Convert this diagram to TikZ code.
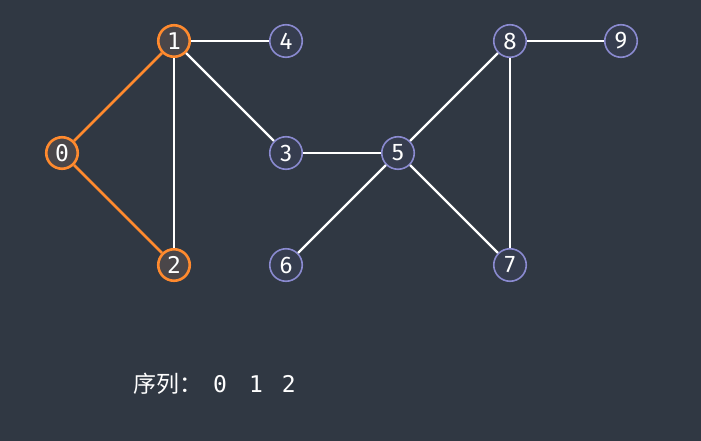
\documentclass[tikz,border=0pt]{standalone}
\usepackage{fontspec}
\setsansfont{Fira Sans}
\setmonofont{DejaVu Sans Mono}
\newfontfamily\cjk{Noto Sans CJK SC}
\definecolor{bgcol}{HTML}{303843}
\definecolor{ringcol}{HTML}{8A8AD0}
\definecolor{nodecol}{HTML}{363D4F}
\definecolor{hotcol}{HTML}{FF8A2E}
\definecolor{hotfill}{HTML}{4A4649}

\begin{document}
\begin{tikzpicture}[x=1pt, y=-1pt,
  vert/.style={circle, draw=ringcol, line width=1.6pt, fill=nodecol, minimum size=32.5pt, inner sep=0pt, text=white, font=\sffamily\fontsize{24}{24}\selectfont},
  seen/.style={vert, draw=hotcol, line width=2.6pt, minimum size=31.5pt, fill=hotfill, font=\ttfamily\fontsize{23}{23}\selectfont},
  edge/.style={draw=white, line width=2.2pt},
  hot/.style={draw=hotcol, line width=2.8pt}]
\fill[bgcol] (0,0) rectangle (701,441);
\node[seen] (N0) at (62,153) {0};
\node[seen] (N1) at (174,41) {1};
\node[seen] (N2) at (174,265) {2};
\node[vert] (N3) at (286,153) {3};
\node[vert] (N4) at (286,41) {4};
\node[vert] (N5) at (398,153) {5};
\node[vert] (N6) at (286,265) {6};
\node[vert] (N7) at (510,265) {7};
\node[vert] (N8) at (510,41) {8};
\node[vert] (N9) at (621,41) {9};
\draw[hot] (N0) -- (N1);
\draw[hot] (N0) -- (N2);
\draw[edge] (N1) -- (N2);
\draw[edge] (N1) -- (N4);
\draw[edge] (N1) -- (N3);
\draw[edge] (N3) -- (N5);
\draw[edge] (N5) -- (N6);
\draw[edge] (N5) -- (N8);
\draw[edge] (N5) -- (N7);
\draw[edge] (N8) -- (N7);
\draw[edge] (N8) -- (N9);
\node[anchor=base west, inner sep=0pt, text=white, font=\fontsize{23}{23}\selectfont] (seq) at (133,392)
  {{\cjk 序列：}\hspace{11pt}\ttfamily 0\hspace{22pt}1\hspace{19pt}2};
\end{tikzpicture}
\end{document}
